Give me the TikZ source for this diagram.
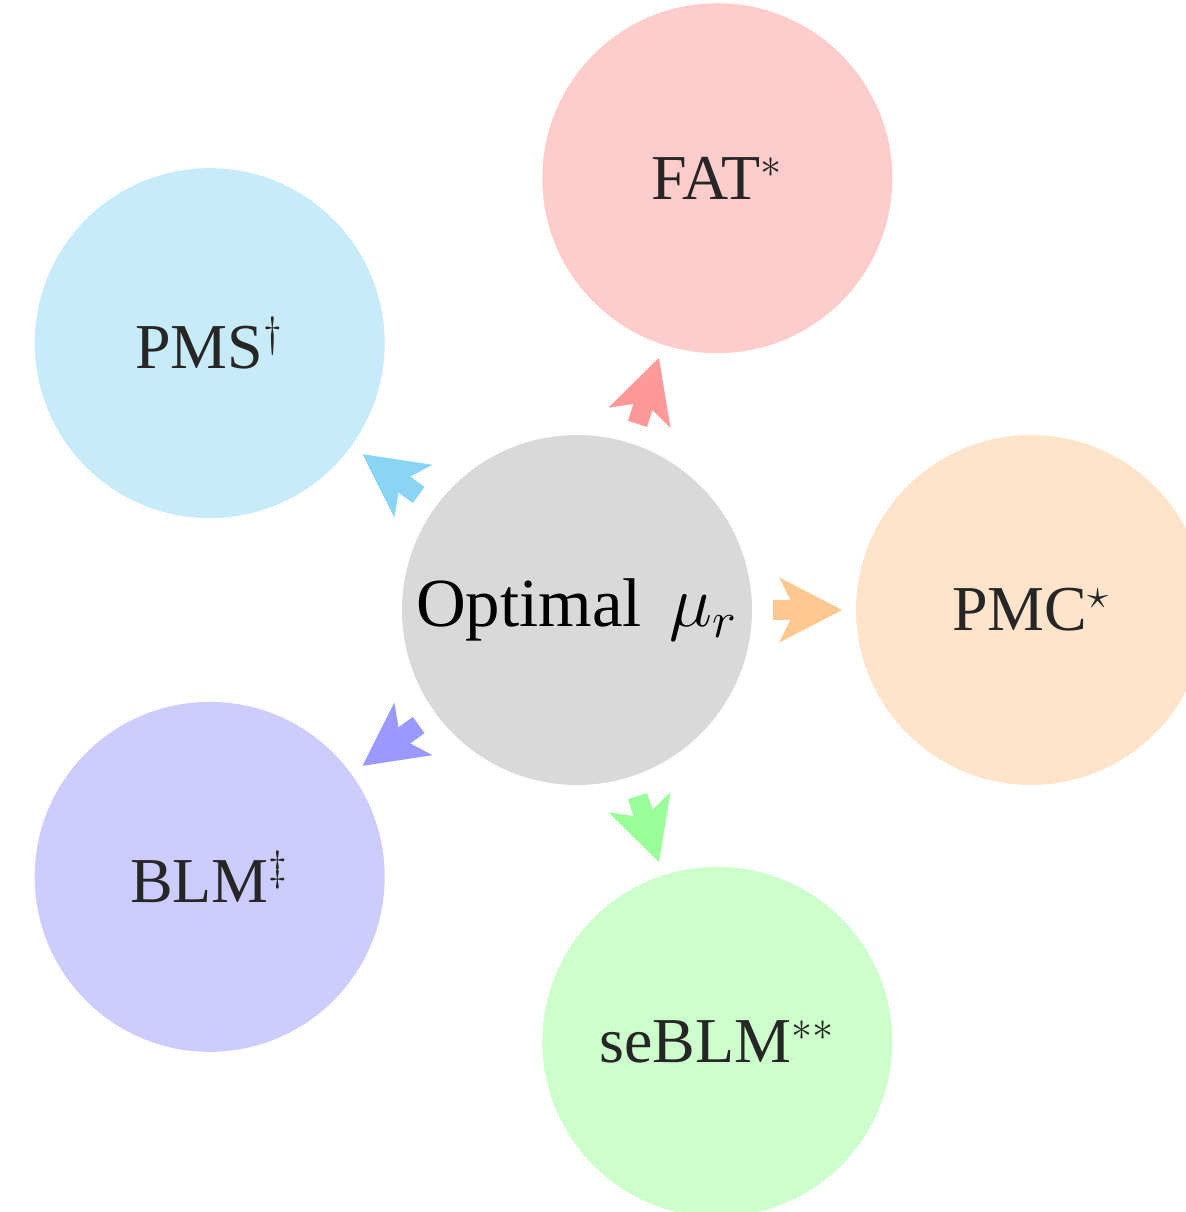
\documentclass[tikz,border=0pt]{standalone}
\usepackage{amsmath}
\usepackage{amssymb}
\usepackage{fontspec}
\setmainfont{Liberation Serif}
\usetikzlibrary{arrows.meta}

\definecolor{fatfill}{HTML}{FFCCCC}
\definecolor{fatarr}{HTML}{FF9999}
\definecolor{pmsfill}{HTML}{C8EBF9}
\definecolor{pmsarr}{HTML}{8AD4F6}
\definecolor{pmcfill}{HTML}{FFE4CC}
\definecolor{pmcarr}{HTML}{FFC891}
\definecolor{blmfill}{HTML}{CCCCFF}
\definecolor{blmarr}{HTML}{9999FF}
\definecolor{sebfill}{HTML}{CCFFCC}
\definecolor{sebarr}{HTML}{99FF99}
\definecolor{midfill}{HTML}{D9D9D9}

\begin{document}
\begin{tikzpicture}[
    planet/.style={circle, fill=#1, inner sep=0pt, minimum size=3.5cm,
      text=black!85, font=\fontsize{18.2}{21}\selectfont},
    sun/.style={circle, fill=midfill, inner sep=0pt, minimum size=3.5cm,
      font=\fontsize{19.6}{23}\selectfont},
    fat/.style={draw=#1, line width=0.2cm, shorten <=0.2cm, shorten >=0.13cm,
      -{Stealth[length=0.62cm, width=0.63cm, inset=0.15cm]}}]
        \useasboundingbox (-5.77,-6.02) rectangle (6.08,6.10);

        \node[sun] (mu) at (0,0) {Optimal\hspace{0.4em}$\mu_r$};

        \node[planet=pmcfill] (pmc) at (0:4.54) {PMC$^\star$};
        \node[planet=fatfill] (fatn) at (72:4.54) {FAT$^*$};
        \node[planet=pmsfill] (pms) at (144:4.54) {PMS$^\dagger$};
        \node[planet=blmfill] (blm) at (216:4.54) {BLM$^\ddagger$};
        \node[planet=sebfill] (seb) at (288:4.54) {seBLM$^{**}$};

        \path (mu) edge[fat=pmcarr] (pmc);
        \path (mu) edge[fat=fatarr] (fatn);
        \path (mu) edge[fat=pmsarr] (pms);
        \path (mu) edge[fat=blmarr] (blm);
        \path (mu) edge[fat=sebarr] (seb);
      \end{tikzpicture}
\end{document}
